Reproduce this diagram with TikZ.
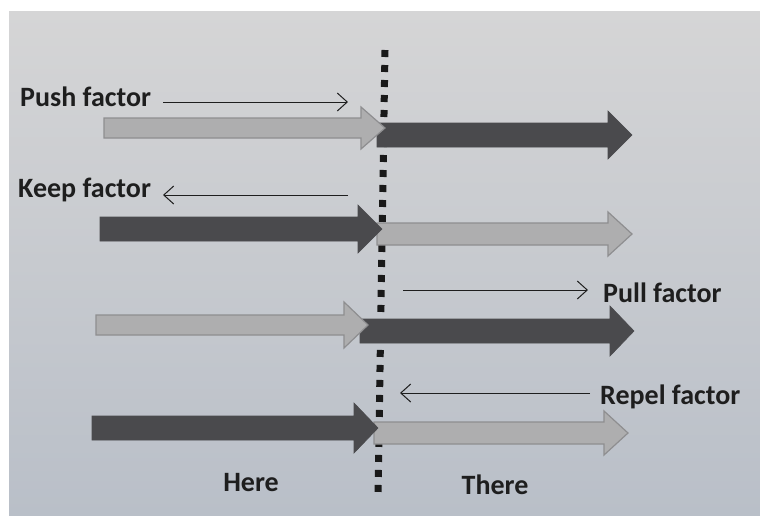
\documentclass[tikz,border=0pt]{standalone}
\usepackage{fontspec}
\setmainfont{Carlito}
\usetikzlibrary{arrows.meta}

\definecolor{paperTop}{HTML}{D5D5D6}
\definecolor{paperBot}{HTML}{B9BFC8}
\definecolor{lightArrow}{HTML}{AEAEAF}
\definecolor{lightEdge}{HTML}{8E8E90}
\definecolor{darkArrow}{HTML}{4A4A4D}
\definecolor{inkText}{HTML}{1E1E1E}

\tikzset{
  lightbar/.style={fill=lightArrow, draw=lightEdge, line width=1.2pt, line join=miter},
  darkbar/.style={fill=darkArrow, draw=darkArrow, line width=0.6pt, line join=miter},
  label/.style={font=\bfseries\fontsize{28}{32}\selectfont, text=inkText, inner sep=0pt, anchor=west},
  thin/.style={draw=inkText, line width=1pt, -{Straight Barb[length=10pt,width=18pt,line width=1pt]}},
  divider/.style={draw=black!90, line width=7pt, dash pattern=on 7pt off 8pt}
}

% block arrow: style, x start, x tip, centre y, shaft half height, head half height, head length
\newcommand\fatarrow[7]{%
  \path[#1] (#2,#4-#5) -- (#3-#7,#4-#5) -- (#3-#7,#4-#6) -- (#3,#4)
    -- (#3-#7,#4+#6) -- (#3-#7,#4+#5) -- (#2,#4+#5) -- cycle;}

\begin{document}
\begin{tikzpicture}[x=1pt,y=-1pt]
  \useasboundingbox (0,0) rectangle (760,515);
  \fill[white] (0,0) rectangle (760,515);
  \shade[top color=paperTop, bottom color=paperBot] (9,11) rectangle (760,515);

  % boundary between here and there
  \coordinate (lineTop) at (385,50);
  \coordinate (lineBot) at (378,497);
  \draw[divider] (lineTop) -- (lineBot);

  % push: light arrow here, dark arrow there
  \fatarrow{darkbar}{377}{632}{135}{12}{24}{24}
  \fatarrow{lightbar}{104}{385}{128}{10}{21}{24}

  % keep: dark arrow here, light arrow there
  \fatarrow{lightbar}{377}{632}{234}{11}{22}{24}
  \fatarrow{darkbar}{100}{382}{229}{12}{24}{24}

  % pull: light arrow here, dark arrow there
  \fatarrow{darkbar}{360}{634}{331}{12}{25}{24}
  \fatarrow{lightbar}{96}{368}{325}{10}{23}{24}

  % repel: dark arrow here, light arrow there
  \fatarrow{lightbar}{374}{628}{433}{11}{22}{24}
  \fatarrow{darkbar}{92}{378}{428}{12}{25}{24}

  % factor labels
  \node[label] (push)  at (20,97)  {Push factor};
  \node[label] (keep)  at (18,190) {Keep factor};
  \node[label] (pull)  at (603,293) {Pull factor};
  \node[label] (repel) at (600,397) {Repel factor};
  \node[label, anchor=center] (here)  at (251,483) {Here};
  \node[label, anchor=center] (there) at (495,485) {There};

  % direction of each factor
  \coordinate (pushA)  at (163,102);
  \coordinate (pushB)  at (348,102);
  \coordinate (keepA)  at (348,195);
  \coordinate (keepB)  at (163,195);
  \coordinate (pullA)  at (403,290);
  \coordinate (pullB)  at (588,290);
  \coordinate (repelA) at (590,393);
  \coordinate (repelB) at (400,393);
  \draw[thin] (pushA) -- (pushB);
  \draw[thin] (keepA) -- (keepB);
  \draw[thin] (pullA) -- (pullB);
  \draw[thin] (repelA) -- (repelB);
\end{tikzpicture}
\end{document}
